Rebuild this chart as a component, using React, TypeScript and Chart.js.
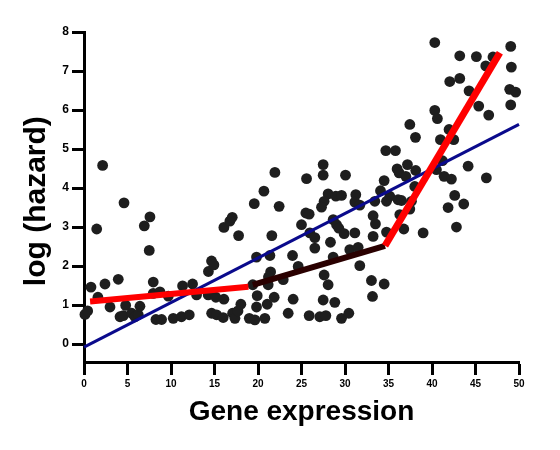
import React, { useEffect, useRef } from "react";
import { Chart, registerables } from "chart.js";

Chart.register(...registerables);

// Scatter observations
const geneExpression = [
  0.11, 0.42, 0.8, 1.46, 1.6, 2.14, 2.41, 2.99, 3.94, 4.6, 4.79, 4.14, 4.51, 5.48, 5.86, 6.24, 6.43, 6.93, 7.58, 7.5,
  7.96, 7.96, 8.73, 8.27, 8.92, 9.69, 10.26, 11.2, 12.1, 11.33, 12.48, 12.94, 14.3, 14.66, 14.93, 14.28, 15.16, 16.08,
  14.67, 15.24, 16.0, 17.08, 17.35, 17.7, 18.03, 19.0, 19.64, 19.83, 19.4,
  16.08, 16.77, 17.04, 17.77, 19.57, 20.68, 21.94, 22.43, 21.59, 19.83, 21.37, 23.97, 24.62, 21.45, 21.2, 21.17, 22.9,
  19.91, 21.86, 21.06, 24.04, 27.49, 28.83, 20.79, 23.47, 25.88, 27.1, 27.8, 29.6, 30.44, 27.6, 28.06, 33.04, 34.5,
  33.16, 25.0, 25.5, 25.88, 25.58, 27.49, 27.49, 30.06, 28.06, 27.6, 27.3, 28.95, 29.6, 31.24, 31.13, 31.7, 28.64,
  29.03, 29.29, 29.9, 31.13, 25.96, 26.53, 28.33, 26.53, 30.55, 31.51, 33.23, 33.5, 33.23, 31.7, 28.64,
  40.32, 49.05, 43.19, 45.1, 47.01, 46.18, 49.12, 42.04, 43.19, 44.26, 48.93, 49.62, 49.05, 45.37, 46.52, 40.32, 40.62,
  37.45, 38.1, 41.96, 40.97, 42.5, 34.69, 35.8, 41.2, 44.15, 37.18, 35.99, 36.22, 38.13, 40.51, 36.99, 41.39, 42.23,
  46.25, 34.5, 38.02, 34.08, 35.15, 34.77, 36.1, 36.49, 37.64, 33.43, 42.61, 43.65, 41.85, 37.45, 36.3, 34.77, 36.76,
  38.98, 42.81,
];
const logHazard = [
  0.76, 0.85, 1.46, 2.95, 1.2, 4.58, 1.54, 0.95, 1.66, 3.62, 0.99, 0.7, 0.73, 0.79, 0.7, 0.75, 0.97, 3.03, 3.26, 2.4,
  1.59, 1.3, 1.34, 0.63, 0.63, 1.23, 0.66, 0.7, 0.75, 1.49, 1.54, 1.26, 1.86, 2.13, 2.03, 1.26, 1.2, 1.15,
  0.79, 0.75, 0.68, 0.79, 0.66, 0.85, 1.02, 0.66, 0.62, 0.95, 1.52,
  2.99, 3.15, 3.25, 2.78, 3.6, 3.92, 4.4, 3.53, 2.78, 2.23, 2.27, 2.27, 1.99, 1.85, 1.72, 1.52, 1.65,
  1.24, 1.2, 1.02, 1.15, 1.13, 1.07, 0.66, 0.79, 0.73, 0.7, 0.73, 0.66, 0.79, 1.77, 1.52, 1.63, 1.54,
  1.22, 3.06, 3.36, 3.33, 4.24, 4.6, 4.33, 4.33, 3.85, 3.66, 3.51, 3.79, 3.81, 3.83, 3.64, 3.56, 3.19,
  3.06, 2.97, 2.83, 2.85, 2.85, 2.73, 2.61, 2.46, 2.42, 2.48, 3.29, 3.08, 2.76, 2.01, 2.23,
  7.73, 7.63, 7.39, 7.37, 7.36, 7.13, 7.1, 6.73, 6.81, 6.49, 6.53, 6.46, 6.13, 6.1, 5.87, 5.99, 5.78,
  5.63, 5.3, 5.5, 5.24, 5.24, 4.96, 4.96, 4.7, 4.56, 4.6, 4.49, 4.39, 4.45, 4.47, 4.3, 4.3, 4.23,
  4.26, 4.19, 4.04, 3.93, 3.79, 3.66, 3.7, 3.68, 3.66, 3.66, 3.81, 3.59, 3.5, 3.46, 3.32, 2.87, 2.95,
  2.85, 3.0,
];

// Linear fit (blue)
const linearFitX = [0, 50];
const linearFitY = [-0.08, 5.63];

// Piecewise fit segments
const segment1X = [0.7, 18.9];
const segment1Y = [1.09, 1.47];
const segment2X = [19.4, 34.6];
const segment2Y = [1.52, 2.52];
const segment3X = [34.6, 47.8];
const segment3Y = [2.52, 7.47];

const yTickValues = [0, 1, 2, 3, 4, 5, 6, 7, 8];

const toPoints = (xs: number[], ys: number[]) => xs.map((x, i) => ({ x, y: ys[i] }));

export default function App() {
  const ref = useRef<HTMLCanvasElement>(null);

  useEffect(() => {
    if (!ref.current) return;
    Chart.defaults.font.family = "'Liberation Sans', Arial, sans-serif";
    const lineDs = (xs: number[], ys: number[], color: string, width: number, order: number) => ({
      data: toPoints(xs, ys),
      showLine: true,
      borderColor: color,
      backgroundColor: color,
      borderWidth: width,
      pointRadius: 0,
      tension: 0,
      order,
      clip: false as any,
    });
    const chart = new Chart(ref.current, {
      type: "scatter",
      data: {
        datasets: [
          lineDs(segment3X, segment3Y, "#ff0000", 7, 1),
          lineDs(segment1X, segment1Y, "#ff0000", 6, 1),
          lineDs(segment2X, segment2Y, "#2a0000", 6, 2),
          lineDs(linearFitX, linearFitY, "#0a0a8c", 3, 3),
          {
            data: toPoints(geneExpression, logHazard),
            backgroundColor: "#1e1e1e",
            borderWidth: 0,
            pointRadius: 5.4,
            pointHoverRadius: 5.4,
            order: 10,
            clip: false as any,
          },
        ],
      },
      options: {
        responsive: false,
        animation: false,
        events: [],
        layout: { padding: { top: 32, right: 41, left: 0, bottom: 0 } },
        plugins: { legend: { display: false }, tooltip: { enabled: false } },
        scales: {
          x: {
            type: "linear",
            min: 0,
            max: 50,
            ticks: { stepSize: 5, color: "#000", font: { size: 10, weight: "bold" }, padding: 3, maxRotation: 0 },
            grid: { drawOnChartArea: false, drawTicks: true, tickLength: 13, tickWidth: 3, tickColor: "#000" },
            border: { display: true, width: 3, color: "#000" },
            title: {
              display: true,
              text: "Gene expression",
              color: "#000",
              font: { size: 28, weight: "bold" },
              padding: { top: 0, bottom: 21 },
            },
            afterFit: (s: any) => {
              s.height = 88;
            },
          },
          y: {
            type: "linear",
            min: -0.46,
            max: 8,
            afterBuildTicks: (s: any) => {
              s.ticks = yTickValues.map((v) => ({ value: v }));
            },
            ticks: { color: "#000", font: { size: 12, weight: "bold" }, padding: 3 },
            grid: { drawOnChartArea: false, drawTicks: true, tickLength: 12, tickWidth: 3, tickColor: "#000" },
            border: { display: true, width: 3, color: "#000" },
            title: {
              display: true,
              text: "log (hazard) ",
              color: "#000",
              font: { size: 30, weight: "bold" },
              padding: { top: 19, bottom: 0 },
            },
            afterFit: (s: any) => {
              s.width = 84;
            },
          },
        },
      },
    } as any);
    return () => chart.destroy();
  }, []);

  return (
    <div style={{ position: "absolute", left: 0, top: 0, width: 560, height: 450, background: "#fff" }}>
      <canvas ref={ref} width={560} height={450} />
    </div>
  );
}
